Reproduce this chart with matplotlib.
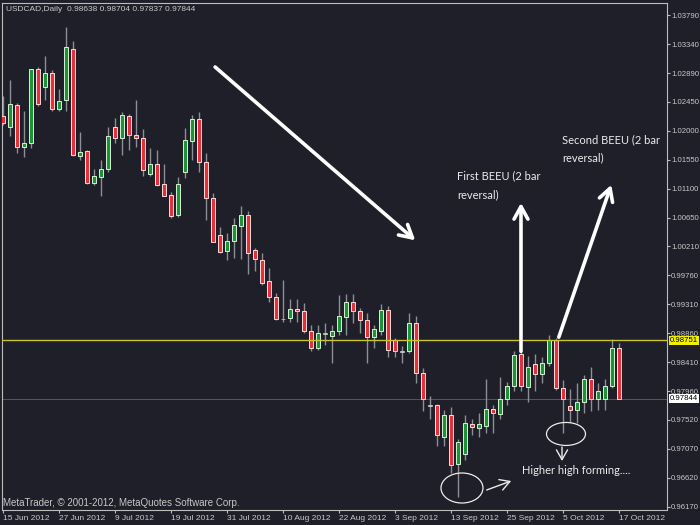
import numpy as np
import matplotlib
matplotlib.use("Agg")
import matplotlib.pyplot as plt
from matplotlib.patches import Ellipse
import matplotlib.transforms as mtransforms

plt.rcParams['font.family'] = ['Liberation Sans', 'DejaVu Sans']

symbol_title = "USDCAD,Daily"

opens = [1.0223, 1.0205, 1.0240, 1.0175, 1.0180, 1.0295, 1.0267, 1.0289, 1.0234, 1.0247,
         1.0327, 1.0161, 1.0169, 1.0119, 1.0128, 1.0140, 1.0205, 1.0188, 1.0223, 1.0193,
         1.0188, 1.0132, 1.0148, 1.0117, 1.0100, 1.0069, 1.0136, 1.0184, 1.0218, 1.0152,
         1.0096, 1.0039, 1.0014, 1.0029, 1.0052, 1.0070, 1.0015, 1.0000, 0.9967, 0.9942,
         0.9908, 0.9909, 0.9924, 0.9921, 0.9890, 0.9864, 0.9886, 0.9882, 0.9890, 0.9912,
         0.9935, 0.9920, 0.9906, 0.9881, 0.9890, 0.9922, 0.9876, 0.9858, 0.9858, 0.9902,
         0.9825, 0.9774, 0.9775, 0.9725, 0.9760, 0.9684, 0.9699, 0.9745, 0.9739, 0.9742,
         0.9768, 0.9761, 0.9784, 0.9805, 0.9854, 0.9803, 0.9838, 0.9823, 0.9840, 0.9876,
         0.9802, 0.9773, 0.9767, 0.9779, 0.9816, 0.9784, 0.9785, 0.9805, 0.98638]
highs = [1.0254, 1.0278, 1.0243, 1.0231, 1.0296, 1.0299, 1.0316, 1.0294, 1.0265, 1.0361,
         1.0339, 1.0198, 1.0170, 1.0140, 1.0155, 1.0206, 1.0219, 1.0228, 1.0226, 1.0247,
         1.0202, 1.0173, 1.0170, 1.0148, 1.0105, 1.0128, 1.0204, 1.0224, 1.0229, 1.0165,
         1.0103, 1.0051, 1.0042, 1.0064, 1.0083, 1.0075, 1.0018, 1.0010, 0.9987, 0.9949,
         0.9969, 0.9939, 0.9939, 0.9933, 0.9899, 0.9899, 0.9902, 0.9899, 0.9945, 0.9947,
         0.9947, 0.9925, 0.9917, 0.9899, 0.9931, 0.9928, 0.9878, 0.9866, 0.9918, 0.9913,
         0.9833, 0.9789, 0.9776, 0.9767, 0.9772, 0.9723, 0.9760, 0.9754, 0.9762, 0.9816,
         0.9775, 0.9818, 0.9811, 0.9859, 0.9857, 0.9851, 0.9854, 0.9849, 0.9883, 0.9878,
         0.9814, 0.9799, 0.9809, 0.9822, 0.9834, 0.9809, 0.9815, 0.9877, 0.98704]
lows = [1.0209, 1.0191, 1.0165, 1.0159, 1.0173, 1.0238, 1.0248, 1.0231, 1.0231, 1.0231,
        1.0161, 1.0154, 1.0118, 1.0116, 1.0098, 1.0136, 1.0180, 1.0162, 1.0170, 1.0175,
        1.0129, 1.0129, 1.0114, 1.0098, 1.0064, 1.0066, 1.0126, 1.0154, 1.0136, 1.0062,
        1.0027, 1.0010, 1.0000, 1.0002, 1.0001, 0.9978, 0.9982, 0.9961, 0.9935, 0.9907,
        0.9904, 0.9904, 0.9904, 0.9887, 0.9859, 0.9860, 0.9868, 0.9840, 0.9883, 0.9883,
        0.9902, 0.9886, 0.9840, 0.9864, 0.9883, 0.9850, 0.9849, 0.9840, 0.9856, 0.9809,
        0.9765, 0.9753, 0.9712, 0.9712, 0.9669, 0.9632, 0.9690, 0.9729, 0.9726, 0.9731,
        0.9731, 0.9754, 0.9775, 0.9797, 0.9796, 0.9780, 0.9797, 0.9809, 0.9835, 0.9798,
        0.9732, 0.9749, 0.9747, 0.9762, 0.9765, 0.9767, 0.9767, 0.9801, 0.97837]
closes = [1.0212, 1.0241, 1.0175, 1.0180, 1.0295, 1.0241, 1.0289, 1.0233, 1.0246, 1.0329,
          1.0162, 1.0167, 1.0119, 1.0129, 1.0141, 1.0191, 1.0188, 1.0224, 1.0193, 1.0188,
          1.0139, 1.0148, 1.0116, 1.0099, 1.0068, 1.0117, 1.0185, 1.0218, 1.0151, 1.0095,
          1.0028, 1.0012, 1.0029, 1.0054, 1.0070, 1.0010, 1.0001, 0.9964, 0.9942, 0.9908,
          0.9908, 0.9924, 0.9920, 0.9890, 0.9864, 0.9887, 0.9886, 0.9890, 0.9913, 0.9935,
          0.9921, 0.9907, 0.9880, 0.9892, 0.9922, 0.9860, 0.9858, 0.9858, 0.9902, 0.9824,
          0.9785, 0.9774, 0.9729, 0.9760, 0.9682, 0.9718, 0.9747, 0.9741, 0.9745, 0.9768,
          0.9762, 0.9784, 0.9805, 0.9853, 0.9805, 0.9834, 0.9823, 0.9840, 0.9876, 0.9801,
          0.9784, 0.9767, 0.9779, 0.9816, 0.9785, 0.9796, 0.9805, 0.9863, 0.97844]

date_tick_bars = [0, 8, 16, 24, 32, 40, 48, 56, 64, 72, 80, 88]
date_labels = ["15 Jun 2012", "27 Jun 2012", "9 Jul 2012", "19 Jul 2012", "31 Jul 2012",
               "10 Aug 2012", "22 Aug 2012", "3 Sep 2012", "13 Sep 2012", "25 Sep 2012",
               "5 Oct 2012", "17 Oct 2012"]
price_ticks = [1.03790, 1.03340, 1.02890, 1.02450, 1.02000, 1.01550, 1.01100, 1.00650,
               1.00210, 0.99760, 0.99310, 0.98860, 0.98410, 0.97960, 0.97520, 0.97070,
               0.96620, 0.96170]
resistance = 0.98751

BG = '#1e1f28'
FG = '#c8c8c8'
ANN = '#ececec'
ANN_FONT = ['Lato', 'DejaVu Sans']

fig = plt.figure(figsize=(7, 5.25), dpi=100, facecolor=BG)
ax = fig.add_axes([2 / 700, 15.5 / 525, 665 / 700, 506.5 / 525], facecolor=BG)

o = np.array(opens)
h = np.array(highs)
l = np.array(lows)
c = np.array(closes)
idx = np.arange(len(o))
up = c > o + 0.00003
down = c < o - 0.00003
flat = ~(up | down)

ax.axhline(c[-1], color='#55565f', lw=0.7, zorder=1)
ax.vlines(idx, l, h, color='#8e8e96', lw=1.0, zorder=2)
bottom = np.minimum(o, c)
height = np.abs(c - o)
ax.bar(idx[up], height[up], 0.68, bottom=bottom[up], color='#1c9436',
       edgecolor='#d6f2d6', linewidth=0.7, zorder=3)
ax.bar(idx[down], height[down], 0.68, bottom=bottom[down], color='#e3303b',
       edgecolor='#ffdada', linewidth=0.7, zorder=3)
ax.bar(idx[flat], np.full(flat.sum(), 0.00008), 0.68, bottom=o[flat] - 0.00004,
       color='#d0d0d4', edgecolor='#d0d0d4', linewidth=0.5, zorder=3)

ax.axhline(resistance, color='#c9c52b', lw=1.0, zorder=4)

ax.set_xlim(-0.143, 94.86)
ax.set_ylim(0.96131, 1.03976)

ax.yaxis.tick_right()
ax.set_yticks(price_ticks)
ax.set_yticklabels([f'{v:.5f}' for v in price_ticks])
ax.tick_params(axis='y', direction='out', length=2, width=0.8, color='#bdbdbd',
               labelcolor=FG, labelsize=5.6, pad=0.8)
ax.set_xticks(date_tick_bars)
ax.set_xticklabels(date_labels)
for lab in ax.get_xticklabels():
    lab.set_ha('left')
ax.tick_params(axis='x', direction='out', length=2.5, width=0.8, color='#bdbdbd',
               labelcolor=FG, labelsize=6, pad=1.5)
for sp in ax.spines.values():
    sp.set_color('#bdbdbd')
    sp.set_linewidth(0.8)

trans = mtransforms.blended_transform_factory(ax.transAxes, ax.transData)
ax.text(1.0 + 2.5 / 665, resistance, f'{resistance:.5f}', transform=trans, ha='left',
        va='center', fontsize=5.6, color='black', clip_on=False, zorder=6,
        bbox=dict(boxstyle='square,pad=0.12', fc='#f2ee00', ec='none'))
ax.text(1.0 + 2.5 / 665, c[-1], f'{c[-1]:.5f}', transform=trans, ha='left',
        va='center', fontsize=5.6, color='black', clip_on=False, zorder=6,
        bbox=dict(boxstyle='square,pad=0.12', fc='white', ec='none'))

header = f"{symbol_title}  {opens[-1]:.5f} {highs[-1]:.5f} {lows[-1]:.5f} {closes[-1]:.5f}"
ax.text(4 / 665, 1 - 6.5 / 506.5, header, transform=ax.transAxes, ha='left', va='center',
        fontsize=6.0, color=FG)
ax.text(1 / 665, 7 / 506.5, "MetaTrader, © 2001-2012, MetaQuotes Software Corp.",
        transform=ax.transAxes, ha='left', va='center', fontsize=7.0, color=FG)

# annotations
big = dict(arrowstyle='->,head_length=0.9,head_width=0.5', color='white', lw=2.6,
           shrinkA=0, shrinkB=0, mutation_scale=10)
ax.annotate('', xy=(58.9, 1.0030), xytext=(30.3, 1.02985), arrowprops=big, zorder=7)
ax.annotate('', xy=(74.0, 1.0088), xytext=(74.0, 0.9858), arrowprops=big, zorder=7)
ax.annotate('', xy=(86.9, 1.0116), xytext=(79.4, 0.9880), arrowprops=big, zorder=7)

small = dict(arrowstyle='->,head_length=0.7,head_width=0.4', color=ANN, lw=1.0,
             shrinkA=0, shrinkB=0, mutation_scale=10)
ax.annotate('', xy=(72.6, 0.96573), xytext=(69.1, 0.96433), arrowprops=small, zorder=7)
ax.annotate('', xy=(79.86, 0.96882), xytext=(79.86, 0.97099), arrowprops=small, zorder=7)

ax.add_patch(Ellipse((65.57, 0.96464), 6.0, 0.00465, fill=False, ec=ANN, lw=0.9, zorder=7))
ax.add_patch(Ellipse((80.43, 0.97301), 5.57, 0.00356, fill=False, ec=ANN, lw=0.9, zorder=7))

for txt, xi, yp in [("First BEEU (2 bar", 64.86, 1.01296), ("reversal)", 64.86, 1.01002),
                    ("Second BEEU (2 bar", 79.86, 1.01854), ("reversal)", 79.86, 1.01575),
                    ("Higher high forming....", 74.14, 0.96728)]:
    ax.text(xi, yp, txt, ha='left', va='center', fontsize=8, color=ANN,
            family=ANN_FONT, zorder=7)

fig.savefig('out.png', dpi=100, facecolor=BG)
